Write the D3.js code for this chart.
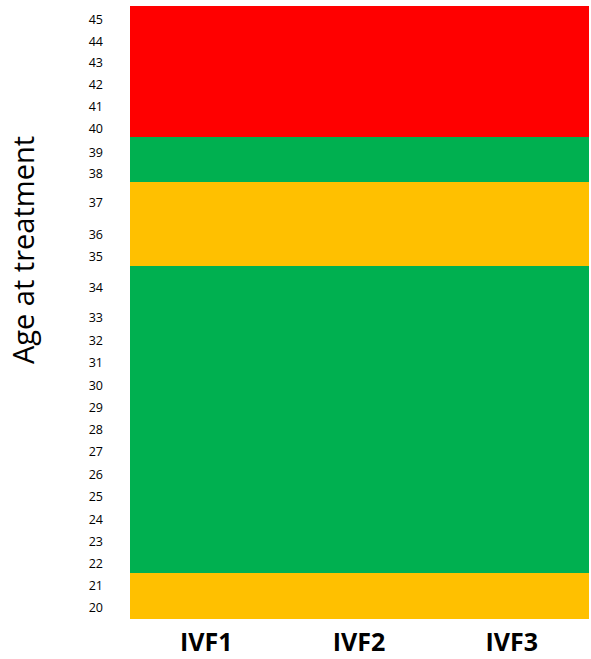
<!DOCTYPE html>
<html><head><meta charset="utf-8">
<script src="https://cdn.jsdelivr.net/npm/d3@7"></script>
<style>body{margin:0;background:#fff}</style>
</head><body><svg id="c" width="591" height="659"></svg>
<script>
// Data
const treatments = ["IVF1", "IVF2", "IVF3"];
const ageLabels = [45,44,43,42,41,40,39,38,37,36,35,34,33,32,31,30,29,28,27,26,25,24,23,22,21,20];
// label positions on the age axis (spacing is irregular)
const labelPos = [44.91,43.97,43.08,42.15,41.22,40.28,39.27,38.37,37.14,35.79,34.85,33.54,32.27,31.29,30.36,29.38,28.45,27.52,26.58,25.61,24.67,23.70,22.77,21.83,20.90,19.97];
// colour bands (age-axis start/end, risk class) - identical for all treatments
const bandFrom = [39.94, 38.03, 34.47, 21.45, 19.5];
const bandTo   = [45.5, 39.94, 38.03, 34.47, 21.45];
const bandClass = ["high", "low", "mid", "low", "mid"];
const classColor = {high: "#FF0000", low: "#00B050", mid: "#FFC000"};
const yTitle = "Age at treatment";

const svg = d3.select("#c");
const m = {left: 130, right: 3, top: 6, bottom: 40};
const W = 591, H = 659;
const x = d3.scaleBand().domain(treatments).range([m.left, W - m.right]).padding(0);
const y = d3.scaleLinear().domain([19.5, 45.5]).range([H - m.bottom, m.top]);

const cells = [];
treatments.forEach(t => bandFrom.forEach((f, i) => cells.push({t, f, to: bandTo[i], c: bandClass[i]})));
svg.append("g").attr("shape-rendering", "crispEdges").selectAll("rect").data(cells).join("rect")
  .attr("x", d => x(d.t))
  .attr("width", x.bandwidth() + 1)
  .attr("y", d => y(d.to))
  .attr("height", d => y(d.f) - y(d.to))
  .attr("fill", d => classColor[d.c]);

// y tick labels
svg.append("g").selectAll("text").data(ageLabels).join("text")
  .attr("x", 103)
  .attr("y", (d, i) => y(labelPos[i]))
  .attr("dy", "0.35em")
  .attr("text-anchor", "end")
  .attr("font-family", "Open Sans, sans-serif")
  .attr("font-size", 12.5)
  .attr("fill", "#000")
  .text(d => d);

// x labels
svg.append("g").selectAll("text").data(treatments).join("text")
  .attr("x", d => x(d) + x.bandwidth() / 2)
  .attr("y", 651)
  .attr("text-anchor", "middle")
  .attr("font-family", "Open Sans, sans-serif")
  .attr("font-weight", "bold")
  .attr("font-size", 25)
  .attr("fill", "#000")
  .text(d => d);

// y title
svg.append("text")
  .attr("transform", "translate(34," + 250 + ") rotate(-90)")
  .attr("text-anchor", "middle")
  .attr("font-family", "Open Sans, sans-serif")
  .attr("font-size", 29)
  .attr("fill", "#000")
  .text(yTitle);
</script></body></html>
